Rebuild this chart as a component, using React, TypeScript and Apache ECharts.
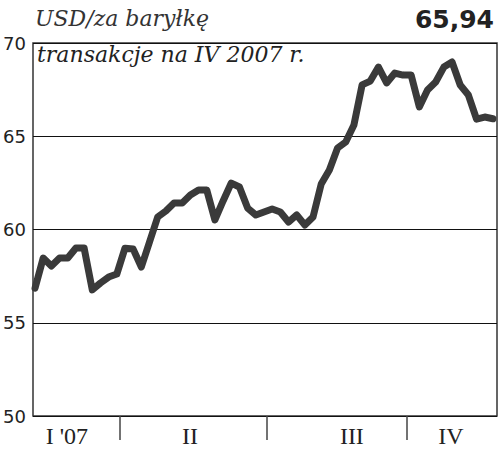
import React, { useEffect, useRef } from "react";
import * as echarts from "echarts";

// Weekly oil price (USD per barrel), in order
const prices: number[] = [
  56.86, 58.47, 58.04, 58.47, 58.47, 59.01, 59.01, 56.76, 57.13, 57.45,
  57.61, 59.0, 58.95, 57.99, 59.33, 60.67, 60.99, 61.42, 61.42, 61.85,
  62.12, 62.12, 60.51, 61.53, 62.49, 62.28, 61.15, 60.78, 60.94, 61.1,
  60.94, 60.4, 60.78, 60.24, 60.67, 62.44, 63.19, 64.37, 64.69, 65.6,
  67.75, 67.96, 68.71, 67.86, 68.39, 68.28, 68.28, 66.57, 67.48, 67.91,
  68.71, 68.98, 67.75, 67.21, 65.92, 66.03, 65.94,
];

// Quarter labels and their positions (in week index units)
const quarterLabels: string[] = ["I '07", "II", "III", "IV"];
const quarterLabelPos: number[] = [3.9, 18.95, 38.75, 50.85];
const quarterBounds: number[] = [10.4, 28.35, 45.5];

const yTicks: number[] = [50, 55, 60, 65, 70];

const unitText = "USD/za baryłkę";
const subtitleText = "transakcje na IV 2007 r.";
const lastValueText = "65,94";

export default function App() {
  const ref = useRef<HTMLDivElement>(null);

  useEffect(() => {
    if (!ref.current) return;
    const chart = echarts.init(ref.current, null, { renderer: "svg" });
    const data = prices.map((v, i) => [i, v]);
    chart.setOption({
      animation: false,
      backgroundColor: "#ffffff",
      grid: {
        left: 33,
        right: 3,
        top: 43,
        bottom: 35,
        show: true,
        borderColor: "#333",
        borderWidth: 1.5,
        backgroundColor: "transparent",
      },
      xAxis: {
        type: "value",
        min: -0.25,
        max: 56.5,
        axisLine: { show: false },
        splitLine: { show: false },
        axisTick: {
          show: true,
          customValues: quarterBounds,
          length: 24,
          lineStyle: { color: "#444", width: 1.5 },
        },
        axisLabel: {
          customValues: quarterLabelPos,
          margin: 8,
          fontFamily: "Liberation Serif",
          fontSize: 24,
          color: "#222",
          formatter: (val: number) => {
            const i = quarterLabelPos.findIndex((p) => Math.abs(p - val) < 1e-6);
            return i >= 0 ? quarterLabels[i] : "";
          },
        },
      },
      yAxis: {
        type: "value",
        min: yTicks[0],
        max: yTicks[yTicks.length - 1],
        interval: 5,
        axisLine: { show: false },
        axisTick: { show: false },
        splitLine: { show: true, lineStyle: { color: "#111", width: 1 } },
        axisLabel: {
          margin: 7,
          fontFamily: "DejaVu Sans",
          fontSize: 18,
          color: "#222",
        },
      },
      graphic: [
        {
          type: "text",
          left: 35,
          top: 7,
          style: {
            text: unitText,
            font: "italic 22px 'DejaVu Serif'",
            fill: "#333",
          },
        },
        {
          type: "text",
          right: 6,
          top: 7,
          style: {
            text: lastValueText,
            font: "bold 25px 'DejaVu Sans'",
            fill: "#222",
          },
        },
        {
          type: "text",
          left: 37,
          top: 43,
          style: {
            text: subtitleText,
            font: "italic 22px 'DejaVu Serif'",
            fill: "#222",
          },
        },
      ],
      series: [
        {
          type: "line",
          data,
          showSymbol: false,
          lineStyle: { color: "#3a3a3a", width: 7, cap: "round", join: "round" },
        },
      ],
    });
    return () => chart.dispose();
  }, []);

  return (
    <div
      ref={ref}
      style={{ position: "fixed", left: 0, top: 0, width: 500, height: 451 }}
    />
  );
}
